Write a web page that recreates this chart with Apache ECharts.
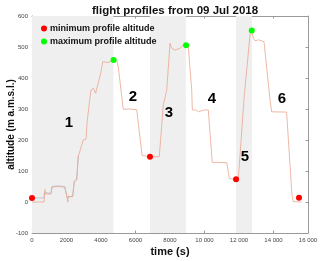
<!DOCTYPE html>
<html><head><meta charset="utf-8">
<script src="https://cdn.jsdelivr.net/npm/echarts@6/dist/echarts.min.js"></script>
<style>html,body{margin:0;padding:0;background:#fff}#c{width:320px;height:261px}</style>
</head><body><div id="c"></div>
<script>
const titleText = 'flight profiles from 09 Jul 2018';
const xTicks = [0, 2000, 4000, 6000, 8000, 10000, 12000, 14000, 16000];
const yTicks = [-100, 0, 100, 200, 300, 400, 500, 600];
const profileTime = [0,700,720,760,780,1100,1160,1500,1900,1950,2000,2050,2080,2100,2360,2450,2590,2680,2780,2975,3130,3200,3320,3420,3555,3690,3790,3880,4000,4100,4230,4420,4620,4730,4910,5000,5290,5600,6070,6380,6840,7380,7610,7810,8000,8100,8290,8580,8770,8930,9060,9260,9295,9500,9650,9800,9900,10000,10220,10450,10700,11290,11440,11700,11830,11960,12060,12300,12640,12740,12830,12930,13120,13320,13370,13450,13800,13890,14000,14760,15050,15090,15150,15630];
const profileAlt  = [0,0,26,40,26,26,48,50,48,35,30,10,0,18,17,65,71,146,152,200,203,260,318,361,367,351,351,393,420,452,452,450,455,458,458,436,299,300,298,150,146,146,313,361,512,496,490,496,506,506,501,361,297,297,291,294,291,297,297,127,128,127,76,73,73,76,150,340,540,553,528,520,523,520,523,517,329,291,288,290,39,17,1,0];
const gpsTime = [0,700,720,780,1100,1160,1500,1900,1950,2050,2100,2360,2450,2590,2680];
const gpsAlt  = [13,13,30,28,28,50,52,50,37,14,20,20,68,73,148];
const minTime = [0, 6840, 11830, 15480];
const minAlt  = [13, 146, 73, 14];
const maxTime = [4730, 8930, 12740];
const maxAlt  = [458, 506, 553];
const shadeStart = [0, 6840, 11830];
const shadeEnd   = [4720, 8920, 12750];
const labelText = ['1','2','3','4','5','6'];
const labelTime = [2145, 5855, 7940, 10435, 12350, 14490];
const labelAlt  = [255, 339, 287, 332, 145, 332];

const zip = (a,b) => a.map((v,i)=>[v,b[i]]);
const FONT = '"Liberation Sans", Arial, sans-serif';
const axisCol = '#9a9a9a';
const chart = echarts.init(document.getElementById('c'), null, {renderer:'canvas'});
const fmtX = v => v >= 10000 ? String(v).replace(/(\d)(?=(\d{3})+$)/g,'$1 ') : String(v);
chart.setOption({
  animation:false,
  backgroundColor:'#fff',
  title:{text:titleText,left:170,textAlign:'center',top:0,textStyle:{fontFamily:FONT,fontSize:11.5,fontWeight:'bold',color:'#111'}},
  grid:{left:32,right:12,top:16,bottom:28,containLabel:false,outerBoundsMode:'none'},
  legend:{orient:'vertical',left:36,top:19,itemWidth:6,itemHeight:6,itemGap:4,icon:'circle',
    data:['minimum profile altitude','maximum profile altitude'],
    textStyle:{fontFamily:FONT,fontSize:9,fontWeight:'bold',color:'#111',padding:[0,0,0,-2]}},
  xAxis:[{type:'value',min:0,max:16000,interval:2000,
    name:'time (s)',nameLocation:'middle',nameGap:13,nameMoveOverlap:false,
    nameTextStyle:{fontFamily:FONT,fontSize:11,fontWeight:'bold',color:'#111'},
    axisLine:{show:true,onZero:false,lineStyle:{color:axisCol,width:1}},
    axisTick:{show:true,inside:true,length:2.5,lineStyle:{color:axisCol}},
    axisLabel:{fontFamily:FONT,fontSize:6,color:'#444',margin:4,formatter:fmtX,hideOverlap:false},
    splitLine:{show:false}},
   {type:'value',position:'top',min:0,max:16000,interval:2000,
    axisLine:{show:true,onZero:false,lineStyle:{color:axisCol,width:1}},
    axisTick:{show:true,inside:true,length:2.5,lineStyle:{color:axisCol}},
    axisLabel:{show:false},splitLine:{show:false}}],
  yAxis:[{type:'value',min:-100,max:600,interval:100,
    name:'altitude (m a.m.s.l.)',nameLocation:'middle',nameGap:16,nameMoveOverlap:false,
    nameTextStyle:{fontFamily:FONT,fontSize:10,fontWeight:'bold',color:'#111'},
    axisLine:{show:true,onZero:false,lineStyle:{color:axisCol,width:1}},
    axisTick:{show:true,inside:true,length:2.5,lineStyle:{color:axisCol}},
    axisLabel:{fontFamily:FONT,fontSize:6,color:'#444',margin:4,hideOverlap:false},
    splitLine:{show:false}},
   {type:'value',position:'right',min:-100,max:600,interval:100,
    axisLine:{show:true,onZero:false,lineStyle:{color:axisCol,width:1}},
    axisTick:{show:true,inside:true,length:2.5,lineStyle:{color:axisCol}},
    axisLabel:{show:false},splitLine:{show:false}}],
  series:[
    {type:'line',name:'shade',data:[],silent:true,
     markArea:{silent:true,itemStyle:{color:'#efefef'},
       data:shadeStart.map((s,i)=>[{xAxis:s},{xAxis:shadeEnd[i]}])}},
    {type:'line',name:'gps',data:zip(gpsTime,gpsAlt),symbol:'none',silent:true,
     lineStyle:{color:'#a9bfd4',width:0.8}},
    {type:'line',name:'profile',data:zip(profileTime,profileAlt),symbol:'none',silent:true,
     lineStyle:{color:'#eba68e',width:0.8}},
    {type:'scatter',name:'minimum profile altitude',data:zip(minTime,minAlt),symbolSize:6,
     itemStyle:{color:'#ff0000',opacity:1},z:5},
    {type:'scatter',name:'maximum profile altitude',data:zip(maxTime,maxAlt),symbolSize:6,
     itemStyle:{color:'#00ff00',opacity:1},z:5},
    {type:'scatter',name:'labels',data:labelTime.map((t,i)=>[t,labelAlt[i],labelText[i]]),
     symbolSize:1,itemStyle:{color:'rgba(0,0,0,0)',opacity:1},silent:true,z:6,
     label:{show:true,position:'inside',formatter:p=>p.value[2],
       fontFamily:FONT,fontSize:15,fontWeight:'bold',color:'#000'}}
  ]
});
</script></body></html>
